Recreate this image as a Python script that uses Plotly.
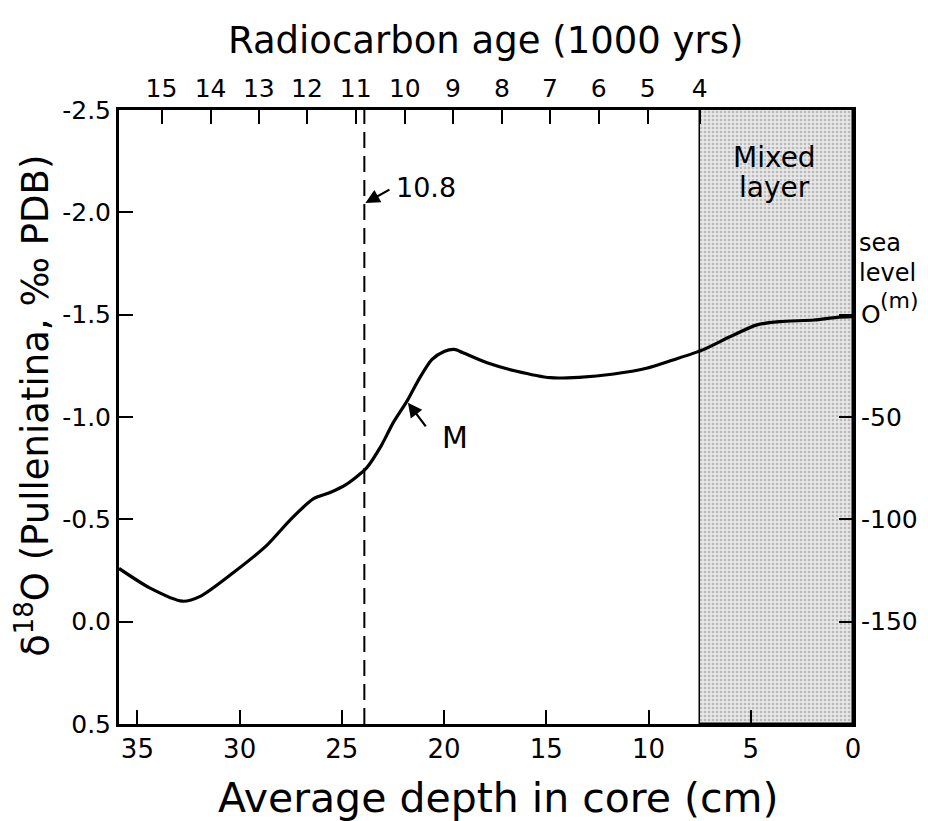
import plotly.graph_objects as go

# ---- data ----
DEPTH_CM = [35.9, 34.4, 32.8, 31.9, 30.3, 28.7, 27.5, 26.4, 25.6, 24.8, 23.8, 23.1,
            22.5, 21.8, 21.2, 20.6, 20.0, 19.5, 19.1, 17.9, 16.5, 14.8, 13.4, 11.7,
            10.1, 8.8, 7.35, 6.0, 4.7, 3.6, 1.9, 0.8, 0.0]
D18O = [-0.26, -0.165, -0.10, -0.125, -0.24, -0.37, -0.50, -0.60, -0.63, -0.67, -0.75, -0.855,
        -0.97, -1.08, -1.19, -1.28, -1.32, -1.33, -1.315, -1.265, -1.225, -1.192, -1.194, -1.21,
        -1.238, -1.279, -1.328, -1.393, -1.45, -1.466, -1.474, -1.487, -1.49]

AGE_LABELS = ["15", "14", "13", "12", "11", "10", "9", "8", "7", "6", "5", "4"]
AGE_DEPTHS = [33.82, 31.42, 29.06, 26.71, 24.32, 21.92, 19.57, 17.17, 14.82, 12.44, 10.04, 7.5]

DEPTH_TICKS = [35, 30, 25, 20, 15, 10, 5, 0]
D18O_TICKS = [-2.5, -2.0, -1.5, -1.0, -0.5, 0.0, 0.5]
D18O_TICK_TEXT = ["-2.5", "-2.0", "-1.5", "-1.0", "-0.5", "0.0", "0.5"]
SEA_TICKS = [0, -50, -100, -150]
SEA_TICK_TEXT = ["O", "-50", "-100", "-150"]

DASHED_DEPTH = 23.9          # 10.8 kyr
DASHED_LABEL = "10.8"
MIXED_LAYER = [7.5, 0.0]     # depth range of mixed layer
M_TIP = (21.77, -1.07)

X_RANGE = [35.9, 0.0]
Y_RANGE = [0.5, -2.5]
SEA_RANGE = [-200, 100]

FONT = "DejaVu Sans"

fig = go.Figure()

# mixed layer shading (textured bar)
fig.add_trace(go.Bar(
    x=[(MIXED_LAYER[0] + MIXED_LAYER[1]) / 2], y=[Y_RANGE[1] - Y_RANGE[0]], base=[Y_RANGE[0]],
    width=[MIXED_LAYER[0] - MIXED_LAYER[1]],
    marker=dict(color="#e4e4e4", line=dict(color="black", width=1.5),
                pattern=dict(shape=".", fgcolor="#8a8a8a", bgcolor="#e8e8e8", size=4, solidity=0.35)),
    showlegend=False, hoverinfo="skip"))

# dashed line
fig.add_trace(go.Scatter(x=[DASHED_DEPTH, DASHED_DEPTH], y=Y_RANGE, mode="lines",
                         line=dict(color="black", width=2, dash="16px,8px"),
                         showlegend=False, hoverinfo="skip"))

# main curve
fig.add_trace(go.Scatter(x=DEPTH_CM, y=D18O, mode="lines",
                         line=dict(color="black", width=3.2, shape="spline", smoothing=0.7),
                         showlegend=False))

# invisible traces to activate top and right axes
fig.add_trace(go.Scatter(x=AGE_DEPTHS, y=[None] * len(AGE_DEPTHS), xaxis="x2", yaxis="y",
                         mode="markers", marker=dict(opacity=0), showlegend=False, hoverinfo="skip"))
fig.add_trace(go.Scatter(x=[0], y=[0], xaxis="x", yaxis="y2", mode="markers",
                         marker=dict(opacity=0), showlegend=False, hoverinfo="skip"))


def axis_style(size):
    return dict(showgrid=False, zeroline=False, showline=True, linecolor="black", linewidth=3,
                ticks="inside", tickcolor="black", tickwidth=2, ticklen=14,
                tickfont=dict(family=FONT, size=size, color="black"))


fig.update_layout(
    width=928, height=821,
    margin=dict(l=111, r=83, t=102, b=105),
    paper_bgcolor="white", plot_bgcolor="white",
    barmode="overlay", bargap=0,
    xaxis=dict(range=X_RANGE, tickvals=DEPTH_TICKS, ticktext=[str(v) for v in DEPTH_TICKS],
               **axis_style(26)),
    xaxis2=dict(range=X_RANGE, overlaying="x", side="top", anchor="y",
                tickvals=AGE_DEPTHS, ticktext=AGE_LABELS, **axis_style(25)),
    yaxis=dict(range=Y_RANGE, tickvals=D18O_TICKS, ticktext=D18O_TICK_TEXT, **axis_style(25)),
    yaxis2=dict(range=SEA_RANGE, overlaying="y", side="right", anchor="x",
                tickvals=SEA_TICKS, ticktext=SEA_TICK_TEXT, **axis_style(25)),
    showlegend=False,
)


def txt(text, x, y, xref="paper", yref="paper", size=27, xanchor="center", angle=0):
    return dict(text=text, x=x, y=y, xref=xref, yref=yref, showarrow=False,
                xanchor=xanchor, yanchor="middle", textangle=angle,
                font=dict(family=FONT, size=size, color="black"))


def arrow(x, y, ax, ay):
    return dict(text="", x=x, y=y, ax=ax, ay=ay, xref="x", yref="y", axref="x", ayref="y",
                showarrow=True, arrowhead=2, arrowsize=1.3, arrowwidth=2.2, arrowcolor="black")


mid_mixed = (MIXED_LAYER[0] + MIXED_LAYER[1]) / 2 + 0.1
annotations = [
    txt("Radiocarbon age (1000 yrs)", 0.499, 1.114, size=37),
    txt("Average depth in core (cm)", 0.517, -0.12, size=41),
    txt("δ<sup>18</sup>O (Pulleniatina, ‰ PDB)", -0.116, 0.518, size=37, angle=-90),
    txt("Mixed", mid_mixed, -2.27, "x", "y", size=28),
    txt("layer", mid_mixed, -2.12, "x", "y", size=28),
    txt("sea", 1.006, 0.783, size=24, xanchor="left"),
    txt("level", 1.006, 0.735, size=24, xanchor="left"),
    txt("(m)", 1.034, 0.69, size=22, xanchor="left"),
    txt(DASHED_LABEL, 22.45, -2.12, "x", "y", size=27, xanchor="left"),
    arrow(DASHED_DEPTH - 0.05, -2.045, 22.6, -2.115),
    txt("M", 20.2, -0.90, "x", "y", size=30, xanchor="left"),
    arrow(M_TIP[0], M_TIP[1], 20.84, -0.947),
]
fig.update_layout(annotations=annotations)

fig.write_html("out.html")
